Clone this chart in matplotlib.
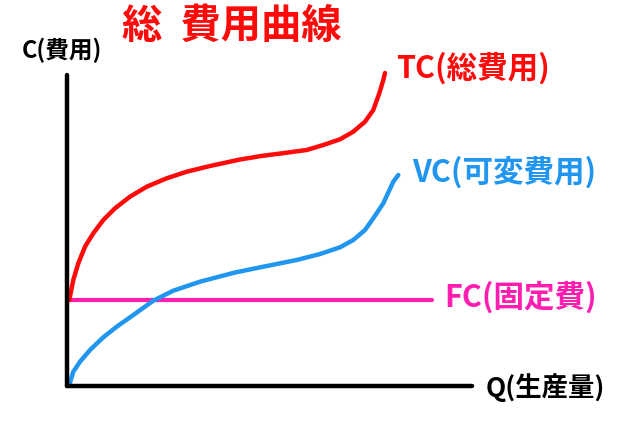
import matplotlib
matplotlib.use("Agg")
import matplotlib.pyplot as plt

plt.rcParams['font.family'] = ['Noto Sans CJK JP', 'DejaVu Sans']

# Data (Q = output, C = cost)
fc_level = 8.6
fc_q = [0.0, 36.5]

tc_q = [0.23, 0.63, 1.13, 1.8, 2.63, 3.63, 4.8, 6.3, 7.97, 9.97, 11.97, 14.3, 17.3,
        19.63, 21.97, 23.97, 25.63, 27.3, 28.63, 29.8, 30.63, 31.23, 31.63, 31.8]
tc_c = [8.6, 10.6, 12.27, 13.93, 15.27, 16.6, 17.77, 18.93, 19.93, 20.77, 21.43, 22.0, 22.65,
        23.03, 23.33, 23.6, 24.1, 24.67, 25.43, 26.43, 27.6, 29.27, 30.6, 31.3]

vc_q = [0.23, 0.63, 1.3, 2.3, 3.63, 4.97, 6.63, 8.63, 10.63, 13.3, 16.8, 19.63, 22.97,
        25.3, 27.3, 28.63, 29.8, 30.63, 31.63, 32.63, 33.13]
vc_c = [0.1, 1.43, 2.43, 3.6, 4.87, 5.93, 7.1, 8.53, 9.53, 10.43, 11.35, 11.93, 12.6,
        13.2, 13.87, 14.6, 15.6, 16.77, 18.27, 20.43, 21.1]

title = "総  費用曲線"
y_label = "C(費用)"
x_label = "Q(生産量)"
tc_label = "TC(総費用)"
vc_label = "VC(可変費用)"
fc_label = "FC(固定費)"

RED = "#ff0a0a"
BLUE = "#2196f0"
PINK = "#ff1eb0"

fig = plt.figure(figsize=(6.2, 4.32), dpi=100)
ax = fig.add_axes([0, 0, 1, 1])
ax.set_xlim(-6.7, 55.3)
ax.set_ylim(-4.6, 38.6)
ax.set_xticks([])
ax.set_yticks([])
for s in ['top', 'right']:
    ax.spines[s].set_visible(False)
ax.spines['left'].set_position(('data', 0))
ax.spines['bottom'].set_position(('data', 0))
ax.spines['left'].set_bounds(0, 31.1)
ax.spines['bottom'].set_bounds(0, 40.5)
for s in ['left', 'bottom']:
    ax.spines[s].set_linewidth(3.2)
    ax.spines[s].set_capstyle('round')

ax.plot(fc_q, [fc_level, fc_level], color=PINK, lw=3.0, solid_capstyle='round')
ax.plot(tc_q, tc_c, color=RED, lw=3.2, solid_capstyle='round', solid_joinstyle='round')
ax.plot(vc_q, vc_c, color=BLUE, lw=3.2, solid_capstyle='round', solid_joinstyle='round')

def ftext(x, y, s, color, size, ha='left'):
    fig.text(x / 620, 1 - y / 432, s, color=color, fontsize=size, ha=ha, va='center',
             fontweight='bold')

ftext(122, 26, title, RED, 29)
ftext(22, 50, y_label, 'black', 17)
ftext(396, 68, tc_label, RED, 22)
ftext(412, 172, vc_label, BLUE, 22)
ftext(444, 297, fc_label, PINK, 22)
ftext(486, 388, x_label, 'black', 19)

fig.savefig("out.png", dpi=100)
